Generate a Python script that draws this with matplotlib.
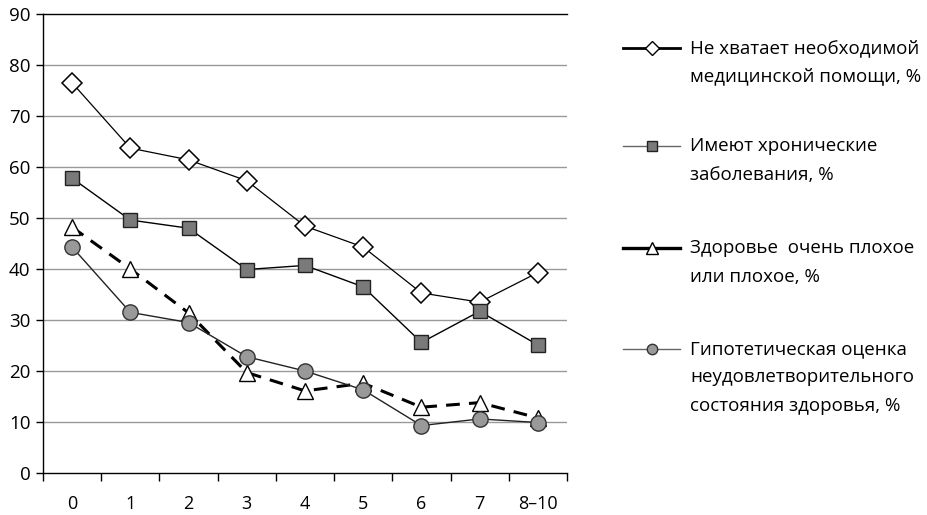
import numpy as np
import matplotlib
matplotlib.use("Agg")
import matplotlib.pyplot as plt
from matplotlib.lines import Line2D

plt.rcParams['font.family'] = ['Open Sans', 'DejaVu Sans']

categories = ["0", "1", "2", "3", "4", "5", "6", "7", "8–10"]
no_care = [76.5, 63.7, 61.4, 57.3, 48.4, 44.3, 35.3, 33.5, 39.3]
chronic = [57.8, 49.6, 48.0, 39.9, 40.7, 36.5, 25.6, 31.7, 25.1]
bad_health = [48.2, 40.0, 31.4, 19.7, 16.1, 17.6, 12.9, 13.8, 10.8]
hypothetical = [44.3, 31.5, 29.5, 22.8, 20.0, 16.3, 9.3, 10.6, 9.9]
labels = [["Не хватает необходимой", "медицинской помощи, %"],
          ["Имеют хронические", "заболевания, %"],
          ["Здоровье  очень плохое", "или плохое, %"],
          ["Гипотетическая оценка", "неудовлетворительного", "состояния здоровья, %"]]

fig = plt.figure(figsize=(9.27, 5.15), dpi=100)
ax = fig.add_axes([43/927, 1-473/515, (567-43)/927, (473-14)/515])
x = np.arange(len(categories))

ax.plot(x, no_care, color='black', lw=0.9, marker='D', ms=10, mfc='white', mec='black', mew=1.1, zorder=3)
ax.plot(x, chronic, color='black', lw=1.0, marker='s', ms=9.5, mfc='#7a7a7a', mec='#222222', mew=1.0, zorder=4)
ax.plot(x, bad_health, color='black', lw=2.2, ls=(0, (4.5, 3)), marker='^', ms=12, mfc='white', mec='black', mew=1.0, zorder=5)
ax.plot(x, hypothetical, color='#222222', lw=1.0, marker='o', ms=11, mfc='#999999', mec='#333333', mew=1.0, zorder=6)

ax.set_xlim(-0.5, 8.5)
ax.set_ylim(0, 90)
ax.set_yticks(np.arange(0, 91, 10))
ax.set_xticks(np.arange(-0.5, 9, 1))
ax.set_xticklabels([])
ax.set_xticks(x, minor=True)
ax.set_xticklabels(categories, minor=True)
ax.tick_params(axis='x', which='major', length=6, width=1, direction='out', color='black')
ax.tick_params(axis='x', which='minor', length=0, pad=16, labelsize=13)
ax.tick_params(axis='y', length=5, width=1, direction='out', labelsize=13.5, pad=4)
for y in range(10, 90, 10):
    ax.axhline(y, color='#999999', lw=1.0, zorder=1)
ax.spines['right'].set_visible(False)
ax.spines['top'].set_color('black')
ax.spines['top'].set_linewidth(1.0)
for s in ['left', 'bottom']:
    ax.spines[s].set_linewidth(1.0)
    ax.spines[s].set_color('black')

# legend
styles = [dict(color='black', lw=2.0, marker='D', ms=7, mfc='white', mec='black', mew=1.0),
          dict(color='#666666', lw=1.0, marker='s', ms=7, mfc='#7a7a7a', mec='#222222', mew=1.0),
          dict(color='black', lw=2.4, marker='^', ms=8, mfc='white', mec='black', mew=1.0),
          dict(color='#666666', lw=1.0, marker='o', ms=7.5, mfc='#999999', mec='#333333', mew=1.0)]
ys = [48, 146, 248, 349]
for yy, st, lab in zip(ys, styles, labels):
    yf = 1 - yy/515
    fig.add_artist(Line2D([623/927, 680/927], [yf, yf], transform=fig.transFigure,
                          color=st['color'], lw=st['lw'], zorder=2))
    fig.add_artist(Line2D([651.5/927], [yf], transform=fig.transFigure, ls='none', zorder=3,
                          marker=st['marker'], ms=st['ms'], mfc=st['mfc'], mec=st['mec'], mew=st['mew']))
    for i, line in enumerate(lab):
        fig.text(690/927, 1 - (yy + 28.5*i)/515, line, fontsize=13.5, va='center', ha='left',
                 transform=fig.transFigure)

fig.savefig("out.png", dpi=100)
